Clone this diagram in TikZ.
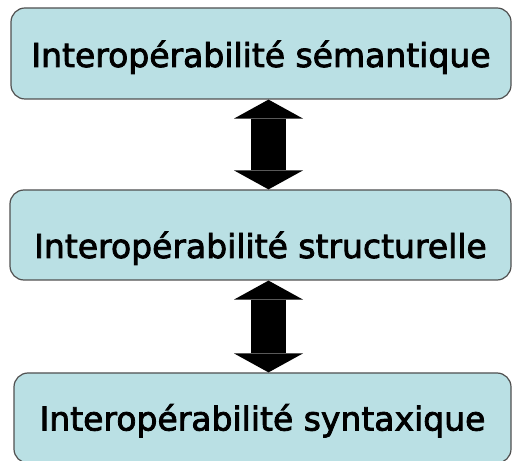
\documentclass[tikz,border=0pt]{standalone}
\usepackage{fontspec}
\setmainfont{DejaVu Sans}
\newfontfamily\levelfont[FakeBold=2.5]{DejaVu Sans}
\usetikzlibrary{arrows.meta}
\definecolor{boxfill}{RGB}{186,224,228}
\definecolor{boxline}{RGB}{80,80,80}

\begin{document}
\begin{tikzpicture}[x=1pt,y=1pt,
        level/.style={draw=boxline, fill=boxfill, line width=1.2pt, rounded corners=14pt,
                      inner sep=0pt, font=\levelfont\fontsize{33}{36}\selectfont},
        linkarrow/.style={line width=35.5pt,
                      {Triangle[width=69pt,length=19pt,line width=0pt]}-{Triangle[width=69pt,length=19pt,line width=0pt]}}]
        \useasboundingbox (0,0) rectangle (513,460);
        \node[level, minimum width=500pt, minimum height=91pt, text height=29pt, text depth=2pt]
             (sem) at (261,406.5) {Interopérabilité sémantique};
        \node[level, minimum width=501pt, minimum height=90pt, text height=48pt, text depth=2pt]
             (str) at (260.5,225) {Interopérabilité structurelle};
        \node[level, minimum width=497pt, minimum height=90pt, text height=27pt, text depth=2pt]
             (syn) at (262.5,42) {Interopérabilité syntaxique};
        \coordinate (axis) at (268.5,0);
        \draw[linkarrow] (sem.south -| axis) -- (str.north -| axis);
        \draw[linkarrow] (str.south -| axis) -- (syn.north -| axis);
    \end{tikzpicture}
\end{document}
